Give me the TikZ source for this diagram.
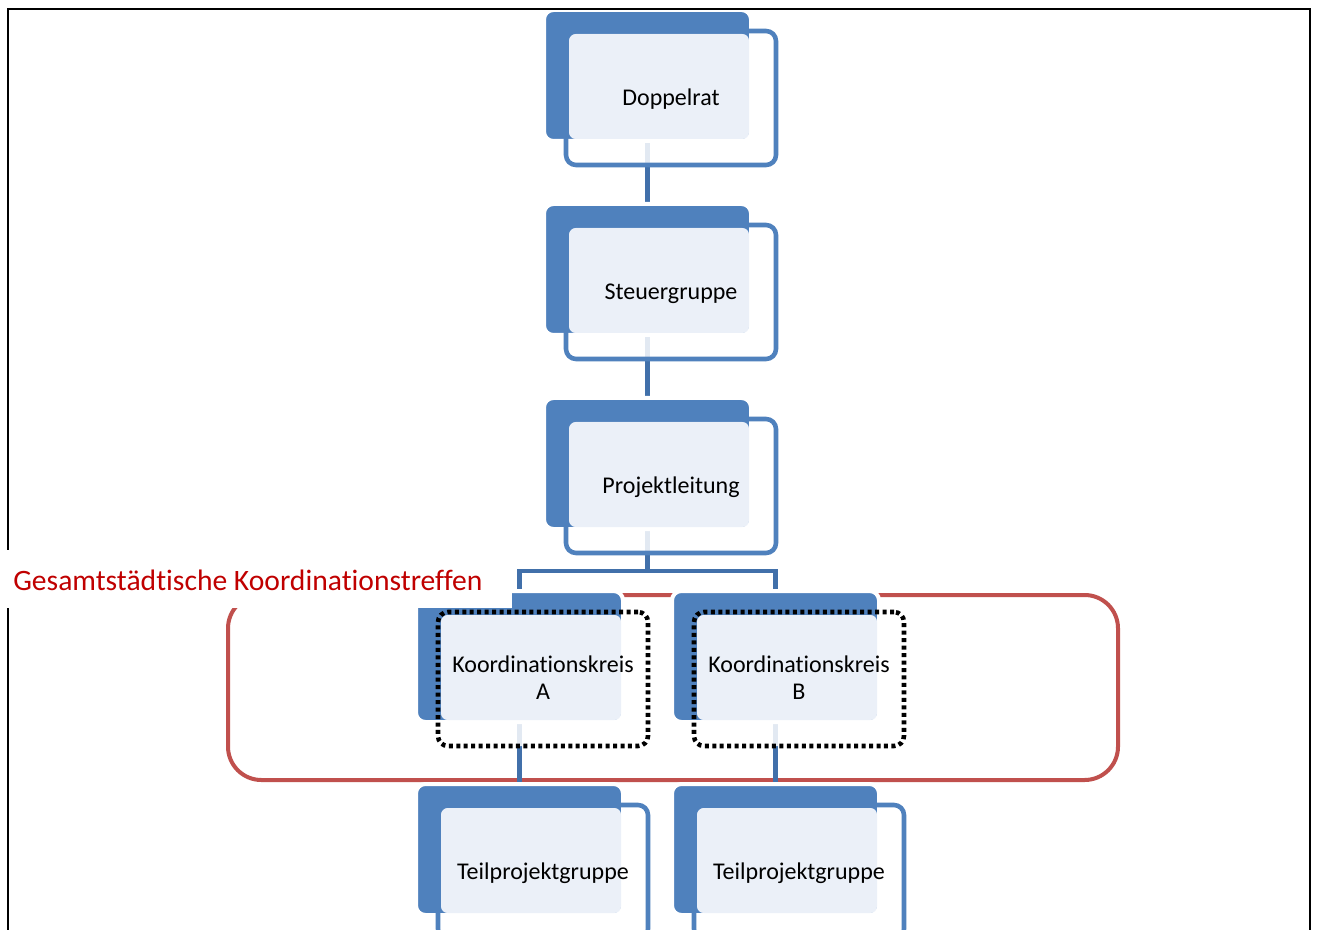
\documentclass[tikz,border=0pt]{standalone}
\usepackage{fontspec}
\setmainfont{Carlito}[Ligatures=NoCommon]
\definecolor{dblue}{HTML}{4F81BD}
\definecolor{lblue}{RGB}{235,240,248}
\definecolor{cblue}{HTML}{4170AA}
\definecolor{gred}{HTML}{C0504D}
\definecolor{tred}{HTML}{C00000}
\pgfdeclarelayer{bg}
\pgfdeclarelayer{conn}
\pgfsetlayers{bg,conn,main}
\tikzset{
  dback/.style={rectangle, rounded corners=7pt, fill=dblue, draw=white, line width=3pt,
    minimum width=155.25pt, minimum height=98.25pt, inner sep=0pt},
  lfill/.style={rectangle, rounded corners=5pt, fill=lblue,
    minimum width=135pt, minimum height=78.75pt, inner sep=0pt},
  ofill/.style={rectangle, rounded corners=7.5pt, fill=white, fill opacity=0.85,
    minimum width=157.5pt, minimum height=100.5pt, inner sep=0pt},
  oline/.style={rectangle, rounded corners=7.5pt, draw=dblue, line width=3.4pt,
    minimum width=157.5pt, minimum height=100.5pt, inner sep=0pt},
  odot/.style={oline, draw=black, line width=3.4pt, dash pattern=on 3pt off 2.6pt},
  boxtext/.style={inner sep=0pt, font=\fontsize{18}{20.25}\selectfont, align=center, text=black},
  connline/.style={draw=cblue, line width=3.6pt},
  redbox/.style={rectangle, rounded corners=25pt, draw=gred, line width=3pt,
    minimum width=667.5pt, minimum height=138.75pt, inner sep=0pt},
  frameline/.style={draw=black, line width=1.5pt},
}
\newcommand\orgbox[6]{%
  \node[ofill] (#1o) at ({#2+125},{#3+86}) {};
  \node[dback] (#1) at ({#2+101.5},{#3+63.5}) {};
  \node[lfill] (#1l) at ({#2+113},{#3+74.5}) {};
  \node[#5] (#1b) at ({#2+125},{#3+86}) {};
  \node[boxtext] (#1t) at ({#2+125},{#3+#6}) {#4};
}
\begin{document}
\begin{tikzpicture}[x=0.75pt,y=-0.75pt]
\useasboundingbox (0,0) rectangle (1317,930);
\clip (0,0) rectangle (1317,930);
\begin{pgfonlayer}{bg}
  \fill[white] (0,0) rectangle (1317,930);
  \node[redbox] (grp) at (673,687.5) {};
\end{pgfonlayer}
\orgbox{n1}{546}{12}{Doppelrat}{oline}{87}
\orgbox{n2}{546}{206}{Steuergruppe}{oline}{87.5}
\orgbox{n3}{546}{400}{Projektleitung}{oline}{87.5}
\orgbox{n4}{418}{593}{Koordinationskreis\\A}{odot}{85}
\orgbox{n5}{674}{593}{Koordinationskreis\\B}{odot}{85}
\orgbox{n6}{418}{786}{Teilprojektgruppe}{oline}{87.5}
\orgbox{n7}{674}{786}{Teilprojektgruppe}{oline}{87.5}
\coordinate (jn) at (647.5,571);
\begin{pgfonlayer}{conn}
  \draw[connline] (n1.south) -- (n2.north);
  \draw[connline] (n2.south) -- (n3.north);
  \draw[connline] (n3.south) -- (jn);
  \draw[connline] (n4.north) |- (jn) -| (n5.north);
  \draw[connline] (n4.south) -- (n6.north);
  \draw[connline] (n5.south) -- (n7.north);
\end{pgfonlayer}
\draw[frameline] (8,940) -- (8,9) -- (1310,9) -- (1310,940);
\node[fill=white, anchor=north west, minimum width=384pt, minimum height=43.5pt, inner sep=0pt] (lblbg) at (0,550) {};
\node[anchor=base west, inner sep=0pt, text=tred, font=\fontsize{22.2}{26}\selectfont] (lbl) at (13,590) {Gesamtstädtische Koordinationstreffen};
\end{tikzpicture}
\end{document}
